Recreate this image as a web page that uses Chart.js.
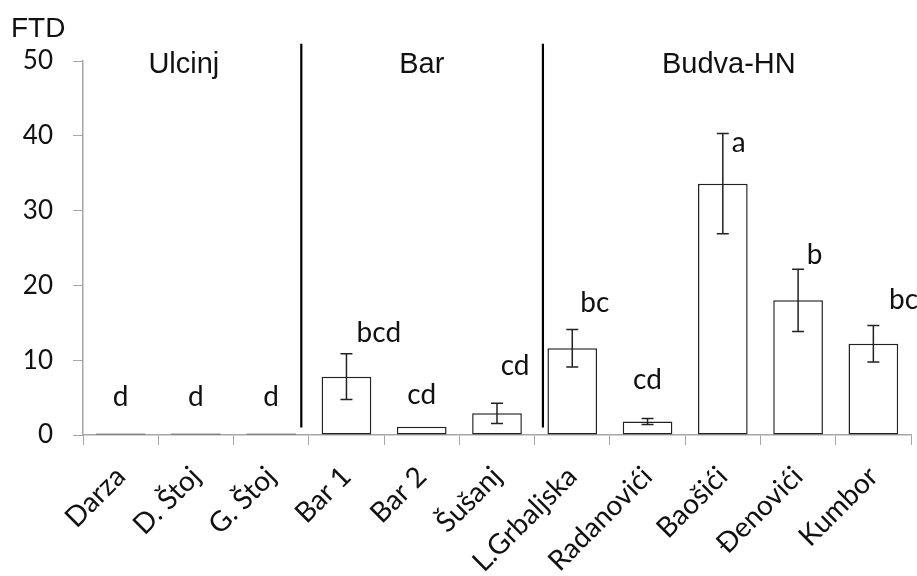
<!DOCTYPE html>
<html><head><meta charset="utf-8">
<script src="https://cdn.jsdelivr.net/npm/chart.js@4/dist/chart.umd.min.js"></script>
<style>html,body{margin:0;padding:0;background:#fff}#w{width:917px;height:576px}</style>
</head><body><div id="w"><canvas id="c"></canvas></div>
<script>
const sites = ['Darza','D. Štoj','G. Štoj','Bar 1','Bar 2','Šušanj','L.Grbaljska','Radanovići','Baošići','Đenovići','Kumbor'];
const ftd = [0.2,0.2,0.2,7.8,1.1,2.9,11.6,1.8,33.6,18.0,12.2];
const ftdErr = [0,0,0,3.05,0,1.35,2.5,0.4,6.7,4.15,2.45];
const letters = ['d','d','d','bcd','cd','cd','bc','cd','a','b','bc'];
const letterLevel = [5.1,5.1,5.1,13.6,5.4,9.2,17.6,7.4,39.0,24.1,18.0];
const groups = ['Ulcinj','Bar','Budva-HN'];
const yMin = 0, yMax = 50, yStep = 10;

const layoutOpts = {
  letterDx: [0,0,0,0.43,0,0.24,0.30,0,0.21,0.22,0.40],
  groupCenter: [0.84,4.0,8.08],
  separators: [2.4,5.61],
  sepTop: 52.3, sepBottom: 1.0
};

const overlay = {
  id:'overlay',
  afterDatasetsDraw(chart){
    const {ctx, scales:{x,y}} = chart;
    const cw = x.getPixelForValue(1)-x.getPixelForValue(0);
    ctx.save();
    ctx.strokeStyle='#222'; ctx.lineWidth=1.5;
    ftd.forEach((v,i)=>{
      const e=ftdErr[i]; if(!e) return;
      const cx=x.getPixelForValue(i);
      const t=y.getPixelForValue(v+e), b=y.getPixelForValue(v-e);
      ctx.beginPath();
      ctx.moveTo(cx,t);ctx.lineTo(cx,b);
      ctx.moveTo(cx-6,t);ctx.lineTo(cx+6,t);
      ctx.moveTo(cx-6,b);ctx.lineTo(cx+6,b);
      ctx.stroke();
    });
    ctx.fillStyle='#111';
    ctx.font='28px Lato';
    ctx.textAlign='center'; ctx.textBaseline='middle';
    letters.forEach((l,i)=>{
      const px=x.getPixelForValue(i)+layoutOpts.letterDx[i]*cw;
      ctx.fillText(l,px,y.getPixelForValue(letterLevel[i]));
    });
    ctx.strokeStyle='#000'; ctx.lineWidth=2.2;
    layoutOpts.separators.forEach(s=>{
      const px=x.getPixelForValue(0)+s*cw;
      ctx.beginPath();
      ctx.moveTo(px,y.getPixelForValue(layoutOpts.sepTop));
      ctx.lineTo(px,y.getPixelForValue(layoutOpts.sepBottom));
      ctx.stroke();
    });
    ctx.font='29px "Liberation Sans", Arial';
    ctx.fillStyle='#111';
    groups.forEach((g,i)=>{
      const px=x.getPixelForValue(0)+layoutOpts.groupCenter[i]*cw;
      ctx.fillText(g,px,y.getPixelForValue(yMax)+4);
    });
    ctx.textAlign='left';
    ctx.font='28px "Liberation Sans", Arial';
    ctx.fillText('FTD',11,29);
    ctx.restore();
  }
};

new Chart(document.getElementById('c'),{
  type:'bar',
  data:{labels:sites,datasets:[{data:ftd,backgroundColor:'#fff',borderColor:'#222',borderWidth:1.5,borderSkipped:false,barPercentage:0.66,categoryPercentage:1}]},
  options:{
    responsive:true, maintainAspectRatio:false, animation:false,
    devicePixelRatio:1,
    layout:{padding:{top:61,right:6,left:0,bottom:0}},
    plugins:{legend:{display:false},tooltip:{enabled:false}},
    scales:{
      x:{
        grid:{drawOnChartArea:false,drawTicks:true,tickLength:10,color:'#a6a6a6',offset:true},
        border:{color:'#a6a6a6',width:1.5},
        ticks:{color:'#111',font:{family:'Lato',size:28},minRotation:45,maxRotation:45,padding:15},
        afterFit(s){s.height=141;}
      },
      y:{
        min:yMin,max:yMax,
        grid:{drawOnChartArea:false,drawTicks:true,tickLength:10,color:'#a6a6a6'},
        border:{color:'#a6a6a6',width:1.5},
        ticks:{stepSize:yStep,color:'#111',font:{family:'Lato',size:26},padding:20},
        afterFit(s){s.width=83;}
      }
    }
  },
  plugins:[overlay]
});
</script></body></html>
